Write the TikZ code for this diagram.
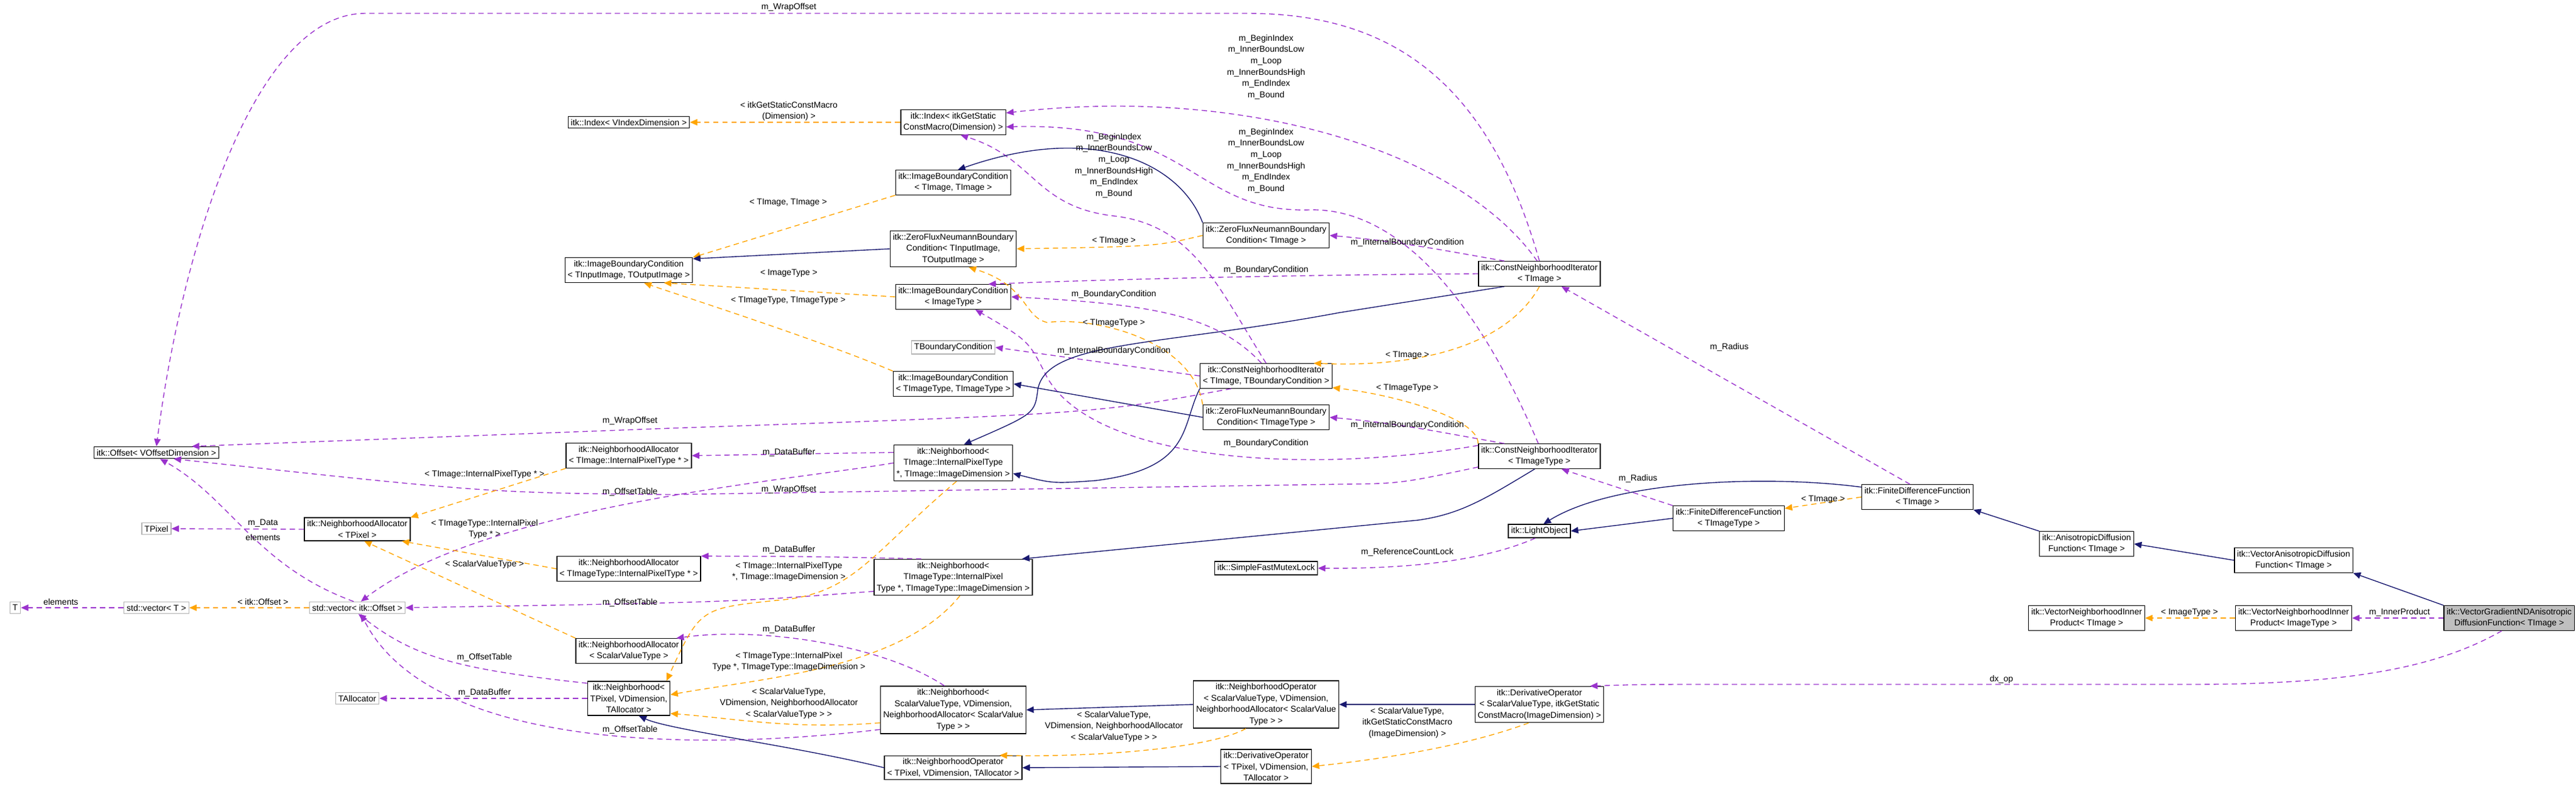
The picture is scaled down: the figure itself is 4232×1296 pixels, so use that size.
\documentclass[tikz,border=0pt]{standalone}
\usepackage{fontspec}
\setmainfont{Liberation Sans}
\usetikzlibrary{arrows.meta,positioning}
\definecolor{usepurple}{HTML}{9A32CD}
\definecolor{tmplorange}{HTML}{FFA500}
\definecolor{inhnavy}{HTML}{191970}
\tikzstyle{cls} = [draw=black, thick, fill=white, align=center, inner sep=2.5pt, font=\fontsize{8}{10.6}\selectfont]
\tikzstyle{ext} = [cls, draw=black!30]
\tikzstyle{main} = [cls, fill=black!25]
\tikzstyle{lbl} = [align=center, inner sep=0pt, font=\fontsize{8}{10.6}\selectfont]
\tikzstyle{use} = [usepurple, thick, dash pattern=on 5pt off 3.5pt, -{Triangle[length=7pt,width=6pt]}]
\tikzstyle{tmpl} = [tmplorange, thick, dash pattern=on 5pt off 3.5pt, -{Triangle[length=7pt,width=6pt]}]
\tikzstyle{inh} = [inhnavy, thick, -{Triangle[length=7pt,width=6pt]}]
\begin{document}
\begin{tikzpicture}[x=0.02cm,y=-0.02cm]
      \useasboundingbox (0,0) rectangle (4232,1296);
      % classes
      \node[cls] (idxV) at (1033,201) {itk::Index< VIndexDimension >};
      \node[cls] (ibcIO) at (1033,444) {itk::ImageBoundaryCondition\\< TInputImage, TOutputImage >};
      \node[cls] (idxS) at (1566,201) {itk::Index< itkGetStatic\\ConstMacro(Dimension) >};
      \node[cls] (ibcII) at (1566,300) {itk::ImageBoundaryCondition\\< TImage, TImage >};
      \node[cls] (zfnIO) at (1566,409) {itk::ZeroFluxNeumannBoundary\\Condition< TInputImage,\\TOutputImage >};
      \node[cls] (ibcIT) at (1566,488) {itk::ImageBoundaryCondition\\< ImageType >};
      \node[ext] (tbc) at (1566,571) {TBoundaryCondition};
      \node[cls] (ibcTT) at (1566,631) {itk::ImageBoundaryCondition\\< TImageType, TImageType >};
      \node[cls] (zfnI) at (2080,387) {itk::ZeroFluxNeumannBoundary\\Condition< TImage >};
      \node[cls] (cniB) at (2080,618) {itk::ConstNeighborhoodIterator\\< TImage, TBoundaryCondition >};
      \node[cls] (zfnT) at (2080,686) {itk::ZeroFluxNeumannBoundary\\Condition< TImageType >};
      \node[cls] (sfml) at (2080,934) {itk::SimpleFastMutexLock};
      \node[cls] (noS) at (2080,1158) {itk::NeighborhoodOperator\\< ScalarValueType, VDimension,\\NeighborhoodAllocator< ScalarValue\\Type > >};
      \node[cls] (doP) at (2080,1260) {itk::DerivativeOperator\\< TPixel, VDimension,\\TAllocator >};
      \node[cls] (cniI) at (2529,450) {itk::ConstNeighborhoodIterator\\< TImage >};
      \node[cls] (cniT) at (2529,750) {itk::ConstNeighborhoodIterator\\< TImageType >};
      \node[cls] (lobj) at (2529,873) {itk::LightObject};
      \node[cls] (doS) at (2529,1158) {itk::DerivativeOperator\\< ScalarValueType, itkGetStatic\\ConstMacro(ImageDimension) >};
      \node[cls] (fdfT) at (2840,852) {itk::FiniteDifferenceFunction\\< TImageType >};
      \node[cls] (fdfI) at (3150,817) {itk::FiniteDifferenceFunction\\< TImage >};
      \node[cls] (adf) at (3428,894) {itk::AnisotropicDiffusion\\Function< TImage >};
      \node[cls] (vadf) at (3768,921) {itk::VectorAnisotropicDiffusion\\Function< TImage >};
      \node[cls] (vnipI) at (3428,1016) {itk::VectorNeighborhoodInner\\Product< TImage >};
      \node[cls] (vnipIT) at (3768,1016) {itk::VectorNeighborhoodInner\\Product< ImageType >};
      \node[main, anchor=east] (vgnd) at (4230,1016) {itk::VectorGradientNDAnisotropic\\DiffusionFunction< TImage >};
      \node[cls] (offs) at (257,744) {itk::Offset< VOffsetDimension >};
      \node[ext] (tpix) at (257,869) {TPixel};
      \node[cls] (naP) at (587,870) {itk::NeighborhoodAllocator\\< TPixel >};
      \node[ext] (tT) at (25,999) {T};
      \node[ext] (vecT) at (257,999) {std::vector< T >};
      \node[ext] (vecO) at (587,999) {std::vector< itk::Offset >};
      \node[ext] (talloc) at (587,1148) {TAllocator};
      \node[cls] (naI) at (1033,749) {itk::NeighborhoodAllocator\\< TImage::InternalPixelType * >};
      \node[cls] (naT) at (1033,935) {itk::NeighborhoodAllocator\\< TImageType::InternalPixelType * >};
      \node[cls] (naS) at (1033,1070) {itk::NeighborhoodAllocator\\< ScalarValueType >};
      \node[cls] (nbP) at (1033,1148) {itk::Neighborhood<\\TPixel, VDimension,\\TAllocator >};
      \node[cls] (nbI) at (1566,761) {itk::Neighborhood<\\TImage::InternalPixelType\\*, TImage::ImageDimension >};
      \node[cls] (nbT) at (1566,949) {itk::Neighborhood<\\TImageType::InternalPixel\\Type *, TImageType::ImageDimension >};
      \node[cls] (nbS) at (1566,1167) {itk::Neighborhood<\\ScalarValueType, VDimension,\\NeighborhoodAllocator< ScalarValue\\Type > >};
      \node[cls] (noP) at (1566,1262) {itk::NeighborhoodOperator\\< TPixel, VDimension, TAllocator >};
      % usage
      \draw[use] (cniI.north) .. controls (2450,150) and (2300,22) .. (2050,22) -- (600,22) .. controls (420,22) and (300,400) .. (offs.north);
      \draw[use] (cniI.100) .. controls (2400,250) and (2050,140) .. (idxS.10);
      \draw[use] (cniT.95) .. controls (2430,500) and (2300,340) .. (2150,345) .. controls (1960,350) and (1960,200) .. (idxS.-5);
      \draw[use] (cniB.north) .. controls (2000,470) and (1960,370) .. (1830,355) .. controls (1700,340) and (1700,260) .. (idxS.-60);
      \draw[use] (cniT.170) .. controls (2150,780) and (1800,760) .. (1720,620) .. controls (1690,560) .. (ibcIT.-30);
      \draw[use] (cniI.west) .. controls (2100,452) and (1800,460) .. (ibcIT.20);
      \draw[use] (cniB.110) .. controls (2000,520) and (1900,500) .. (ibcIT.east);
      \draw[use] (cniB.west) -- (tbc.east);
      \draw[use] (cniI.160) to[out=170,in=-5] (zfnI.east);
      \draw[use] (cniT.160) to[out=170,in=-5] (zfnT.east);
      \draw[use] (cniB.-160) .. controls (1800,680) .. (1100,704) -- (offs.10);
      \draw[use] (cniT.190) .. controls (2300,795) .. (2200,796) -- (1100,813) .. controls (800,810) .. (offs.-20);
      \draw[use] (nbI.west) .. controls (1300,790) and (800,830) .. (vecO.60);
      \draw[use] (nbI.170) -- (naI.east);
      \draw[use] (nbT.150) .. controls (1350,915) .. (naT.10);
      \draw[use] (nbT.-170) .. controls (1200,990) .. (vecO.east);
      \draw[use] (nbS.110) .. controls (1450,1060) and (1250,1030) .. (naS.15);
      \draw[use] (nbS.-165) .. controls (1100,1240) and (700,1220) .. (vecO.-60);
      \draw[use] (nbP.160) .. controls (750,1100) and (680,1080) .. (vecO.-80);
      \draw[use] (nbP.west) -- (talloc.east);
      \draw[use] (naP.west) -- (tpix.east);
      \draw[use] (vecO.120) .. controls (420,930) and (380,820) .. (offs.-60);
      \draw[use] (vecT.west) -- (tT.east);
      \draw[use] (vgnd.-120) .. controls (4000,1100) and (3850,1125) .. (3600,1125) -- (2800,1125) .. controls (2700,1125) .. (doS.20);
      \draw[use] (vgnd.west) -- (vnipIT.east);
      \draw[use] (fdfT.north west) -- (cniT.-30);
      \draw[use] (fdfI.120) -- (cniI.-30);
      \draw[use] (lobj.-120) .. controls (2430,925) and (2300,935) .. (sfml.east);
      % templates
      \draw[tmpl] (idxS.west) -- (idxV.east);
      \draw[tmpl] (ibcII.south west) -- (ibcIO.north east);
      \draw[tmpl] (ibcIT.west) -- (ibcIO.-20);
      \draw[tmpl] (ibcTT.north west) .. controls (1350,560) and (1100,480) .. (ibcIO.-40);
      \draw[tmpl] (zfnI.west) .. controls (1900,405) .. (zfnIO.east);
      \draw[tmpl] (zfnT.north west) .. controls (1960,560) and (1800,520) .. (1720,530) .. controls (1680,520) and (1690,470) .. (zfnIO.-50);
      \draw[tmpl] (cniI.south) .. controls (2480,560) and (2350,605) .. (cniB.15);
      \draw[tmpl] (cniT.north west) .. controls (2430,690) and (2300,650) .. (cniB.-10);
      \draw[tmpl] (naI.south west) -- (naP.north east);
      \draw[tmpl] (naT.west) -- (naP.-15);
      \draw[tmpl] (naS.north west) -- (naP.-60);
      \draw[tmpl] (vecO.west) -- (vecT.east);
      \draw[tmpl] (nbI.-80) .. controls (1430,911) and (1402,978) .. (1275,987) .. controls (1150,1000) .. (nbP.25);
      \draw[tmpl] (nbT.-70) .. controls (1480,1100) and (1250,1115) .. (nbP.5);
      \draw[tmpl] (nbS.-170) .. controls (1300,1200) and (1200,1180) .. (nbP.-20);
      \draw[tmpl] (noS.-130) .. controls (1990,1230) and (1800,1245) .. (noP.15);
      \draw[tmpl] (doS.-120) .. controls (2400,1230) and (2250,1250) .. (doP.east);
      \draw[tmpl] (fdfI.west) -- (fdfT.10);
      \draw[tmpl] (vnipIT.west) -- (vnipI.east);
      % inheritance
      \draw[inh] (zfnI.north west) .. controls (1940,270) and (1800,200) .. (ibcII.70);
      \draw[inh] (zfnIO.west) -- (ibcIO.10);
      \draw[inh] (zfnT.west) -- (ibcTT.east);
      \draw[inh] (cniI.200) -- (2200,514) .. controls (1900,570) and (1720,560) .. (1705,640) .. controls (1700,680) .. (nbI.60);
      \draw[inh] (cniB.south west) .. controls (1940,700) and (1960,770) .. (1800,790) .. controls (1730,795) .. (nbI.-10);
      \draw[inh] (cniT.-110) .. controls (2440,820) and (2400,845) .. (2330,855) -- (nbT.15);
      \draw[inh] (noS.west) -- (nbS.east);
      \draw[inh] (noP.west) .. controls (1300,1225) and (1100,1200) .. (nbP.-60);
      \draw[inh] (doP.west) -- (noP.east);
      \draw[inh] (doS.west) -- (noS.east);
      \draw[inh] (fdfT.west) -- (lobj.east);
      \draw[inh] (fdfI.170) .. controls (2900,780) and (2650,790) .. (lobj.60);
      \draw[inh] (adf.north west) -- (fdfI.south east);
      \draw[inh] (vadf.west) -- (adf.east);
      \draw[inh] (vgnd.north west) -- (vadf.south east);
      % labels
      \node[lbl] (l1) at (1296,12) {m\_WrapOffset};
      \node[lbl] (l2) at (1296,183) {< itkGetStaticConstMacro\\(Dimension) >};
      \node[lbl] (l3) at (2080,110) {m\_BeginIndex\\m\_InnerBoundsLow\\m\_Loop\\m\_InnerBoundsHigh\\m\_EndIndex\\m\_Bound};
      \node[lbl] (l4) at (1830,272) {m\_BeginIndex\\m\_InnerBoundsLow\\m\_Loop\\m\_InnerBoundsHigh\\m\_EndIndex\\m\_Bound};
      \node[lbl] (l5) at (2080,264) {m\_BeginIndex\\m\_InnerBoundsLow\\m\_Loop\\m\_InnerBoundsHigh\\m\_EndIndex\\m\_Bound};
      \node[lbl] (l6) at (1295,333) {< TImage, TImage >};
      \node[lbl] (l7) at (1296,449) {< ImageType >};
      \node[lbl] (l8) at (1295,494) {< TImageType, TImageType >};
      \node[lbl] (l9) at (1830,396) {< TImage >};
      \node[lbl] (l10) at (2080,444) {m\_BoundaryCondition};
      \node[lbl] (l11) at (1830,484) {m\_BoundaryCondition};
      \node[lbl] (l12) at (1830,531) {< TImageType >};
      \node[lbl] (l13) at (1830,577) {m\_InternalBoundaryCondition};
      \node[lbl] (l14) at (2312,399) {m\_InternalBoundaryCondition};
      \node[lbl] (l15) at (2312,584) {< TImage >};
      \node[lbl] (l16) at (2312,638) {< TImageType >};
      \node[lbl] (l17) at (2841,571) {m\_Radius};
      \node[lbl] (l18) at (2312,699) {m\_InternalBoundaryCondition};
      \node[lbl] (l19) at (2691,787) {m\_Radius};
      \node[lbl] (l20) at (2995,821) {< TImage >};
      \node[lbl] (l21) at (2312,908) {m\_ReferenceCountLock};
      \node[lbl] (l22) at (3288,1117) {dx\_op};
      \node[lbl] (l23) at (2312,1188) {< ScalarValueType,\\itkGetStaticConstMacro\\(ImageDimension) >};
      \node[lbl] (l24) at (3597,1007) {< ImageType >};
      \node[lbl] (l25) at (3942,1007) {m\_InnerProduct};
      \node[lbl] (l26) at (1035,692) {m\_WrapOffset};
      \node[lbl] (l27) at (796,780) {< TImage::InternalPixelType * >};
      \node[lbl] (l28) at (1035,809) {m\_OffsetTable};
      \node[lbl] (l29) at (432,860) {m\_Data};
      \node[lbl] (l30) at (432,883) {elements};
      \node[lbl] (l31) at (796,870) {< TImageType::InternalPixel\\Type * >};
      \node[lbl] (l32) at (796,928) {< ScalarValueType >};
      \node[lbl] (l33) at (100,989) {elements};
      \node[lbl] (l34) at (432,989) {< itk::Offset >};
      \node[lbl] (l35) at (1035,991) {m\_OffsetTable};
      \node[lbl] (l36) at (796,1081) {m\_OffsetTable};
      \node[lbl] (l37) at (796,1139) {m\_DataBuffer};
      \node[lbl] (l38) at (1035,1200) {m\_OffsetTable};
      \node[lbl] (l39) at (1296,744) {m\_DataBuffer};
      \node[lbl] (l40) at (1296,805) {m\_WrapOffset};
      \node[lbl] (l41) at (1296,904) {m\_DataBuffer};
      \node[lbl] (l42) at (1296,940) {< TImage::InternalPixelType\\*, TImage::ImageDimension >};
      \node[lbl] (l43) at (1296,1035) {m\_DataBuffer};
      \node[lbl] (l44) at (1296,1088) {< TImageType::InternalPixel\\Type *, TImageType::ImageDimension >};
      \node[lbl] (l45) at (1296,1156) {< ScalarValueType,\\VDimension, NeighborhoodAllocator\\< ScalarValueType > >};
      \node[lbl] (l46) at (2080,729) {m\_BoundaryCondition};
      \node[lbl] (l47) at (1830,1194) {< ScalarValueType,\\VDimension, NeighborhoodAllocator\\< ScalarValueType > >};
\end{tikzpicture}
\end{document}
